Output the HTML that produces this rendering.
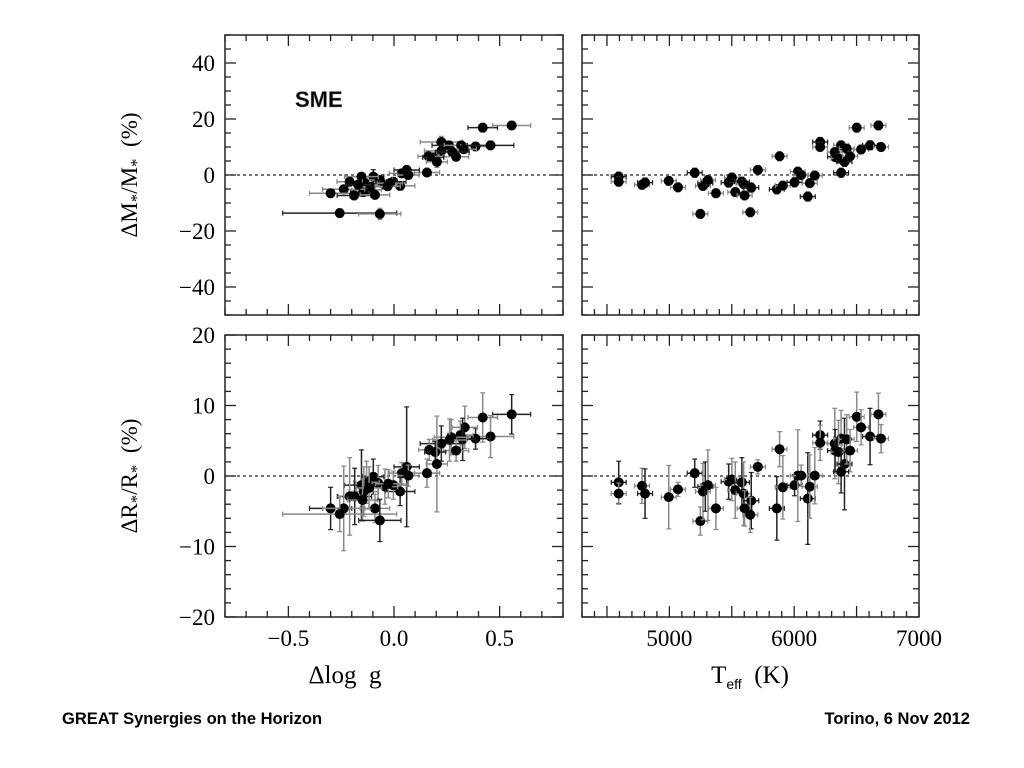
<!DOCTYPE html>
<html><head><meta charset="utf-8"><style>
body{margin:0;background:#fff;}
svg{display:block;font-family:"Liberation Serif",serif;}
</style></head><body>
<svg id="chart" width="1024" height="768" xmlns="http://www.w3.org/2000/svg">
<g id="axes"></g>
<text x="295" y="107" font-family="Liberation Sans, sans-serif" font-weight="bold" font-size="22" fill="#000" stroke="#888" stroke-width="0.5">SME</text>
<text x="345" y="683" font-size="25" text-anchor="middle">Δlog&#160;&#160;g</text>
<text x="750" y="683" font-size="25" text-anchor="middle">T<tspan font-family="Liberation Sans, sans-serif" font-size="14" dy="6">eff</tspan><tspan dy="-6">&#160;&#160;(K)</tspan></text>
<text transform="translate(137,175) rotate(-90)" font-size="23" text-anchor="middle">ΔM<tspan font-size="17" dy="5">*</tspan><tspan dy="-5">/M</tspan><tspan font-size="17" dy="5">*</tspan><tspan dy="-5">&#160;&#160;(%)</tspan></text>
<text transform="translate(137,476) rotate(-90)" font-size="23" text-anchor="middle">ΔR<tspan font-size="17" dy="5">*</tspan><tspan dy="-5">/R</tspan><tspan font-size="17" dy="5">*</tspan><tspan dy="-5">&#160;&#160;(%)</tspan></text>
<text x="62" y="724" font-family="Liberation Sans, sans-serif" font-weight="bold" font-size="16.5">GREAT Synergies on the Horizon</text>
<text x="970" y="724" text-anchor="end" font-family="Liberation Sans, sans-serif" font-weight="bold" font-size="16.5">Torino, 6 Nov 2012</text>
</svg>
<script>
// top-left: dlogg vs dM
const tlX=[0.42,0.557,0.224,0.26,0.318,0.386,0.457,0.33,0.224,0.276,0.294,0.163,0.186,0.203,0.156,0.06,0.037,0.068,-0.003,0.029,-0.046,-0.098,-0.067,-0.154,-0.138,-0.21,-0.13,-0.146,-0.238,-0.3,-0.189,-0.09,-0.019,-0.257,-0.067,-0.11,-0.17,-0.03];
const tlY=[16.9,17.7,11.8,10.6,10.6,10.2,10.6,9.2,8.6,8.2,6.5,6.7,6.3,4.7,0.9,1.8,0.6,0,-2.4,-3.9,-3.5,-0.6,-1.8,-0.6,-2.9,-2.4,-5.3,-6.1,-5.1,-6.5,-7.3,-7.1,-2.9,-13.6,-13.9,-4.2,-3.5,-4.0];
const tlXE=[0.07,0.09,0.1,0.08,0.08,0.07,0.11,0.06,0.08,0.08,0.06,0.05,0.05,0.05,0.06,0.06,0.06,0.05,0.06,0.07,0.06,0.05,0.06,0.08,0.07,0.06,0.07,0.06,0.1,0.1,0.08,0.07,0.06,0.27,0.1,0.06,0.06,0.06];
const tlYE=[1.5,1.5,2,1.5,1.5,1.5,1.5,1.5,1.5,1.5,1.5,1.5,1.5,2,1.5,1.5,1.5,1.5,1.5,1.5,1.5,2.5,1.5,1.5,1.5,1.5,1.5,1.5,1.5,1.5,1.5,1.5,1.5,1.5,2,1.5,1.5,1.5];
// top-right: Teff vs dM
const trX=[4594,4594,4781,4805,4995,5069,5203,5248,5269,5288,5309,5373,5475,5501,5528,5581,5595,5603,5656,5648,5709,5861,5883,5909,6003,6029,6056,6109,6125,6165,6208,6208,6325,6328,6376,6355,6403,6421,6448,6376,6501,6536,6608,6675,6696];
const trY=[-0.6,-2.4,-3.5,-2.7,-2.1,-4.4,0.8,-13.9,-3.9,-2.9,-1.8,-6.5,-2.7,-0.9,-6.1,-2.4,-3.2,-7.3,-4.5,-13.3,1.8,-5.1,6.7,-3.8,-2.6,1.2,0,-7.7,-2.9,-0.2,11.8,10,8.2,6.5,10.6,5.9,4.7,9.4,6.7,0.8,16.9,9.1,10.6,17.7,10];
// bottom-left: dlogg vs dR
const blX=[0.557,0.42,0.457,0.386,0.335,0.314,0.325,0.271,0.263,0.224,0.294,0.167,0.195,0.203,0.156,0.06,0.037,0.068,0.029,-0.003,-0.043,-0.098,-0.075,-0.13,-0.154,-0.143,-0.21,-0.186,-0.149,-0.09,-0.3,-0.238,-0.257,-0.067,-0.027,-0.118];
const blY=[8.75,8.3,5.6,5.3,6.9,5.8,5.2,5.5,5.1,4.6,3.6,3.7,3.4,1.7,0.4,1.3,0.4,0.05,-2.2,-1.3,-1.5,-0.1,-1.0,-0.9,-1.3,-2.2,-2.9,-2.9,-3.4,-4.6,-4.6,-4.6,-5.4,-6.3,-1.1,-1.7];
const blXE=[0.09,0.07,0.11,0.07,0.06,0.06,0.06,0.08,0.08,0.1,0.06,0.05,0.05,0.05,0.06,0.06,0.06,0.05,0.07,0.06,0.06,0.05,0.06,0.06,0.08,0.07,0.06,0.08,0.07,0.07,0.1,0.1,0.27,0.1,0.06,0.06];
const blYE=[2.8,3.5,3,1.5,3,2,3,2.5,3,2.5,1.5,1.5,1.5,6.8,2,8.5,1.5,1.5,2,2,2.5,2.5,2.5,3,5,3.5,5.5,4,3,2,3,6,2.5,3,2,3];
// bottom-right: Teff vs dR
const brX=[4594,4594,4781,4805,4995,5069,5203,5248,5269,5288,5309,5373,5475,5501,5528,5581,5595,5603,5656,5648,5709,5861,5883,5909,6003,6029,6056,6109,6125,6165,6208,6208,6325,6328,6376,6355,6403,6421,6448,6376,6501,6536,6608,6675,6696];
const brY=[-0.9,-2.5,-1.4,-2.5,-3.0,-1.9,0.4,-6.4,-2.2,-1.5,-1.3,-4.6,-0.8,-0.5,-2.0,-0.9,-2.5,-4.6,-3.5,-5.5,1.3,-4.6,3.8,-1.6,-1.3,0.05,0.05,-3.2,-1.5,0.05,5.8,4.7,4.6,3.6,5.3,3.4,1.7,5.2,3.6,0.6,8.4,6.9,5.6,8.75,5.3];
const brYE=[3,1.5,2.5,3.5,4.5,1,2,2,4,3.5,5,3,2.5,3,4,3.5,4.5,2.5,4,2.5,1,4.5,2.5,4.5,1.5,6.5,1.5,6.5,4.5,4,2,2.5,5,3,4,4.5,6.5,3.5,3,3,3.5,2.5,4,3,2];

const NS='http://www.w3.org/2000/svg';
const g=document.getElementById('axes');
function mk(tag,attrs,parent){const e=document.createElementNS(NS,tag);for(const k in attrs)e.setAttribute(k,attrs[k]);(parent||g).appendChild(e);return e;}
function scale(d0,d1,p0,p1){return v=>p0+(v-d0)/(d1-d0)*(p1-p0);}

const L1=225,R1=563,L2=582,R2=919,T1=35,B1=315,T2=335,B2=617;
const sxL=scale(-0.8,0.8,L1,R1), sxR=scale(4300,7000,L2,R2);
const syT=scale(-50,50,B1,T1), syB=scale(-20,20,B2,T2);
const fmt=v=>v<0?'−'+Math.abs(v).toFixed(1):v.toFixed(1);

function frame(name,L,R,T,B,sx,sy,xmin,xmax,xstep,xmaj,ymin,ymax,ystep,ymaj,xlab,ylab,xfmt){
  const grp=mk('g',{});
  
  
  mk('rect',{x:L,y:T,width:R-L,height:B-T,fill:'none',stroke:'#222','stroke-width':1.5},grp);
  const nX=Math.round((xmax-xmin)/xstep);
  for(let i=0;i<=nX;i++){const v=xmin+i*xstep;const x=sx(v);
    const maj=Math.abs(v/xmaj-Math.round(v/xmaj))<1e-6;const len=maj?11:6;
    mk('line',{x1:x,x2:x,y1:B,y2:B-len,stroke:'#222','stroke-width':1.3},grp);
    mk('line',{x1:x,x2:x,y1:T,y2:T+len,stroke:'#222','stroke-width':1.3},grp);
    if(maj&&xlab){const t=mk('text',{x:x,y:B+29,'font-size':23,'text-anchor':'middle'},grp);t.textContent=xfmt(v);
      }
  }
  const nY=Math.round((ymax-ymin)/ystep);
  for(let i=0;i<=nY;i++){const v=ymin+i*ystep;const y=sy(v);
    const maj=Math.abs(v/ymaj-Math.round(v/ymaj))<1e-6;const len=maj?11:6;
    mk('line',{x1:L,x2:L+len,y1:y,y2:y,stroke:'#222','stroke-width':1.3},grp);
    mk('line',{x1:R,x2:R-len,y1:y,y2:y,stroke:'#222','stroke-width':1.3},grp);
    if(maj&&ylab){const t=mk('text',{x:L-10,y:y+8,'font-size':23,'text-anchor':'end'},grp);t.textContent=(v<0?'−'+Math.abs(v):v);
      }
  }
  mk('line',{x1:L,x2:R,y1:sy(0),y2:sy(0),stroke:'#222','stroke-width':1.2,'stroke-dasharray':'3,3'},grp);
}
frame('panel-top-left',L1,R1,T1,B1,sxL,syT,-0.8,0.8,0.1,0.5,-50,50,5,20,false,true,fmt);
frame('panel-top-right',L2,R2,T1,B1,sxR,syT,4300,7000,100,500,-50,50,5,20,false,false,v=>v);
frame('panel-bottom-left',L1,R1,T2,B2,sxL,syB,-0.8,0.8,0.1,0.5,-20,20,2,10,true,true,fmt);
frame('panel-bottom-right',L2,R2,T2,B2,sxR,syB,4300,7000,100,500,-20,20,2,10,true,false,v=>v);
g.querySelectorAll('text').forEach(t=>{if(['4500','5500','6500'].includes(t.textContent))t.remove();});

function points(name,xs,ys,xe,ye,sx,sy,defXE,defYE){
  const grp=mk('g',{});
  
  
  for(let i=0;i<xs.length;i++){
    const x=sx(xs[i]),y=sy(ys[i]);
    const ex=xe?xe[i]:defXE, ey=ye?ye[i]:defYE;
    const x0=sx(xs[i]-ex),x1=sx(xs[i]+ex),y0=sy(ys[i]-ey),y1=sy(ys[i]+ey);
    const col=i%3===0?'#222':'#888';
    mk('line',{x1:x0,x2:x1,y1:y,y2:y,stroke:col,'stroke-width':1.5},grp);
    mk('line',{x1:x0,x2:x0,y1:y-2.5,y2:y+2.5,stroke:col,'stroke-width':1.2},grp);
    mk('line',{x1:x1,x2:x1,y1:y-2.5,y2:y+2.5,stroke:col,'stroke-width':1.2},grp);
    mk('line',{x1:x,x2:x,y1:y0,y2:y1,stroke:col,'stroke-width':1.5},grp);
    mk('line',{x1:x-2.5,x2:x+2.5,y1:y0,y2:y0,stroke:col,'stroke-width':1.2},grp);
    mk('line',{x1:x-2.5,x2:x+2.5,y1:y1,y2:y1,stroke:col,'stroke-width':1.2},grp);
    const c=mk('circle',{cx:x,cy:y,r:5,fill:'#000'},grp);
    
    
  }
}
points('series-dm-vs-logg',tlX,tlY,tlXE,tlYE,sxL,syT);
points('series-dm-vs-teff',trX,trY,null,null,sxR,syT,60,1.6);
points('series-dr-vs-logg',blX,blY,blXE,blYE,sxL,syB);
points('series-dr-vs-teff',brX,brY,null,brYE,sxR,syB,60);
</script>
</body></html>
